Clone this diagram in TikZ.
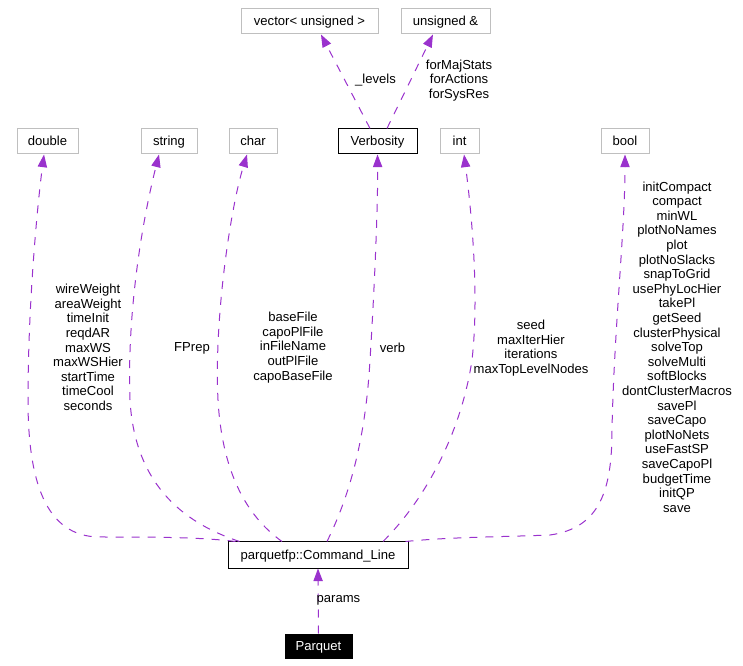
\documentclass[tikz,border=0pt]{standalone}
\usepackage{fontspec}
\setmainfont{Liberation Sans}
\usetikzlibrary{arrows.meta}
\definecolor{linkviolet}{HTML}{9A32CD}
\definecolor{boxgray}{HTML}{BFBFBF}
\tikzset{
  clase/.style={draw=boxgray, line width=0.75pt, minimum height=18.75pt, inner sep=0pt, text height=7pt, text depth=0.3pt, font=\fontsize{9.8}{10.95}\selectfont},
  claseneg/.style={clase, draw=black},
  raiz/.style={clase, draw=black, fill=black, text=white, minimum height=18pt},
  uso/.style={draw=linkviolet, line width=0.75pt, dash pattern=on 6pt off 6pt, -{Triangle[length=9.5pt,width=7pt]}},
  miembros/.style={align=center, inner sep=0pt, font=\fontsize{9.8}{10.95}\selectfont}
}
\begin{document}
\begin{tikzpicture}[x=0.75pt, y=-0.75pt]
  \useasboundingbox (0,0) rectangle (743,666);
  % Tipos de arriba
  \node[clase, minimum width=102.75pt] (vec) at (309.5,21.5) {vector< unsigned >};
  \node[clase, minimum width=66.75pt] (uref) at (445.5,21.5) {unsigned \&};
  % Tipos de los miembros
  \node[clase, minimum width=45.75pt] (dbl) at (47.5,141.5) {double};
  \node[clase, minimum width=42pt] (str) at (169,141.5) {string};
  \node[clase, minimum width=36pt] (chr) at (253,141.5) {char};
  \node[claseneg, minimum width=59.25pt] (verb) at (377.5,141.5) {Verbosity};
  \node[clase, minimum width=29.25pt] (int) at (459.5,141.5) {int};
  \node[clase, minimum width=36pt] (bool) at (625,141.5) {bool};
  % Clase central y raiz
  \node[claseneg, minimum width=135pt, minimum height=19.5pt] (cl) at (318,555) {parquetfp::Command\_Line};
  \node[raiz, minimum width=50.25pt] (pq) at (318.5,646) {Parquet};
  % Verbosity hacia arriba
  \draw[uso] ([xshift=-5.6pt]verb.north) -- ([xshift=8.6pt]vec.south);
  \draw[uso] ([xshift=7.1pt]verb.north) -- ([xshift=-9.4pt]uref.south);
  \node[miembros] (lev) at (375.5,80) {\_levels};
  \node[miembros] (fms) at (459,80.5) {forMajStats\\forActions\\forSysRes};
  % double
  \draw[uso] ([xshift=6pt]cl.north west) .. controls (200,537) and (150,537) .. (100,537)
    .. controls (45,537) and (28,480) .. (28,400) .. controls (28,300) and (38,200) .. ([xshift=-2.6pt]dbl.south);
  \node[miembros] (ldbl) at (88,347.5) {wireWeight\\areaWeight\\timeInit\\reqdAR\\maxWS\\maxWSHier\\startTime\\timeCool\\seconds};
  % string
  \draw[uso] ([xshift=9pt]cl.north west) .. controls (190,525) and (135,490) .. (130,400)
    .. controls (127,320) and (140,230) .. ([xshift=-7.5pt]str.south);
  \node[miembros] (lstr) at (192,348) {FPrep};
  % char
  \draw[uso] ([xshift=-27pt]cl.north) .. controls (245,515) and (222,470) .. (218,400)
    .. controls (214,320) and (230,210) .. ([xshift=-4.5pt]chr.south);
  \node[miembros] (lchr) at (293,347.5) {baseFile\\capoPlFile\\inFileName\\outPlFile\\capoBaseFile};
  % Verbosity
  \draw[uso] ([xshift=6.75pt]cl.north) .. controls (345,505) and (365,450) .. (370,360)
    .. controls (375,280) and (378,200) .. (verb.south);
  \node[miembros] (lverb) at (392.5,348) {verb};
  % int
  \draw[uso] ([xshift=48.75pt]cl.north) .. controls (420,505) and (460,440) .. (472,360)
    .. controls (480,290) and (470,200) .. ([xshift=3.4pt]int.south);
  \node[miembros] (lint) at (531,348) {seed\\maxIterHier\\iterations\\maxTopLevelNodes};
  % bool
  \draw[uso] ([xshift=-2.25pt]cl.north east) .. controls (450,537) and (500,537) .. (550,535)
    .. controls (600,528) and (612,490) .. (612,430) .. controls (614,330) and (625,230) .. (bool.south);
  \node[miembros] (lbool) at (677,347) {initCompact\\compact\\minWL\\plotNoNames\\plot\\plotNoSlacks\\snapToGrid\\usePhyLocHier\\takePl\\getSeed\\clusterPhysical\\solveTop\\solveMulti\\softBlocks\\dontClusterMacros\\savePl\\saveCapo\\plotNoNets\\useFastSP\\saveCapoPl\\budgetTime\\initQP\\save};
  % params
  \draw[uso] (pq.north) -- (cl.south);
  \node[miembros] (lpar) at (338.5,600) {params};
\end{tikzpicture}
\end{document}
